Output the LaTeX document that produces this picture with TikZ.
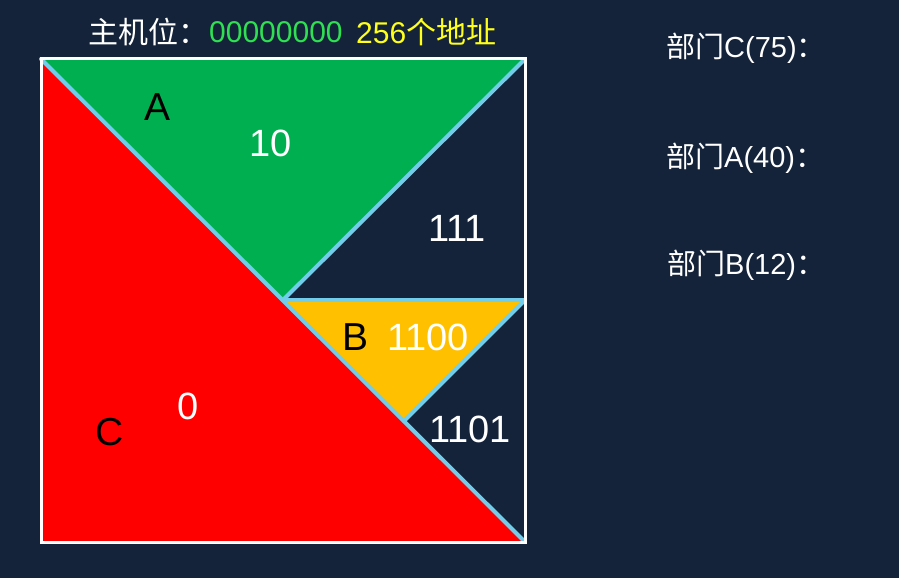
\documentclass[tikz,border=0pt]{standalone}
\usepackage{fontspec}
\setmainfont{Liberation Sans}
\newfontfamily\cjk{Noto Sans CJK SC}
\definecolor{bg}{HTML}{142339}
\definecolor{gfill}{HTML}{00B050}
\definecolor{rfill}{HTML}{FF0000}
\definecolor{yfill}{HTML}{FFC000}
\definecolor{edge}{HTML}{72CDEB}
\definecolor{gtext}{HTML}{2EE052}
\definecolor{ytext}{HTML}{FFFF1A}
\tikzset{
  lbl/.style={inner sep=0pt, font=\fontsize{38}{42}\selectfont},
  big/.style={lbl, text=white},
  letter/.style={lbl, text=black, font=\fontsize{39}{43}\selectfont},
  head/.style={inner sep=0pt, anchor=west, font=\fontsize{30}{34}\selectfont},
  side/.style={inner sep=0pt, anchor=west, text=white, font=\fontsize{29}{33}\selectfont},
  cut/.style={draw=edge, line width=4pt, line cap=round},
}
\begin{document}
\begin{tikzpicture}[x=1pt,y=-1pt]
\fill[bg] (0,0) rectangle (899,578);
\useasboundingbox (0,0) rectangle (899,578);
\coordinate (TL) at (41,59);
\coordinate (TR) at (525,59);
\coordinate (BL) at (41,542);
\coordinate (BR) at (525,542);
\coordinate (M) at (283,300);
\coordinate (R) at (525,300);
\coordinate (Q) at (404,421);
% fills
\fill[rfill] (TL) -- (BL) -- (BR) -- cycle;
\fill[gfill] (TL) -- (TR) -- (M) -- cycle;
\fill[yfill] (M) -- (R) -- (Q) -- cycle;
% cut lines
\draw[cut] (TL) -- (BR);
\draw[cut] (TR) -- (M);
\draw[cut] (M) -- (R);
\draw[cut] (R) -- (Q);
% border
\draw[white, line width=3pt] (TL) rectangle (BR);
% title
\node[head, text=white] (t1) at (88,32) {\cjk 主机位：};
\node[head, text=gtext] (t2) at (209,32) {00000000};
\node[head, text=ytext] (t3) at (356,32) {256\cjk 个地址};
% labels inside
\node[letter] (A) at (158,107) {A};
\node[big] (n10) at (271,143) {10};
\node[big] (n111) at (457,228) {111};
\node[letter] (B) at (356,337) {B};
\node[big] (n1100) at (428,337) {1100};
\node[big] (n0) at (188,406) {0};
\node[letter] (C) at (110,432) {C};
\node[big] (n1101) at (470,429) {1101};
% side labels
\node[side] (sc) at (666,48) {{\cjk 部门}C(75){\cjk ：}};
\node[side] (sa) at (666,158) {{\cjk 部门}A(40){\cjk ：}};
\node[side] (sb) at (667,265) {{\cjk 部门}B(12){\cjk ：}};
\end{tikzpicture}
\end{document}
